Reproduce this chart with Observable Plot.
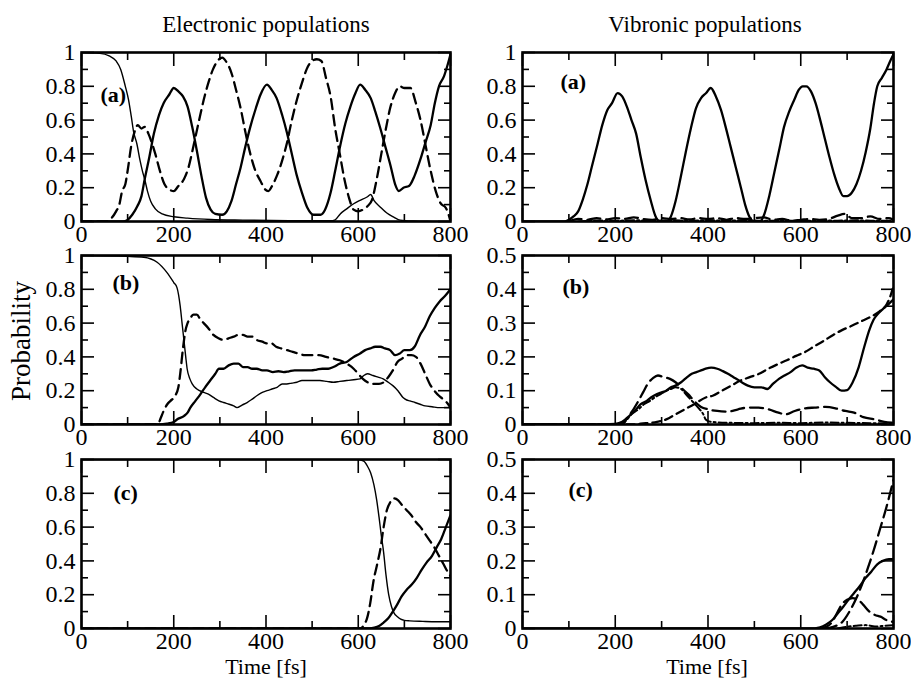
<!DOCTYPE html>
<html>
<head>
<meta charset="utf-8">
<script src="https://cdn.jsdelivr.net/npm/d3@7"></script>
<script src="https://cdn.jsdelivr.net/npm/@observablehq/plot@0.6"></script>
<style>
  html, body { margin: 0; padding: 0; background: #fff; }
  #root { position: relative; width: 911px; height: 679px; overflow: hidden; font-family: "Liberation Serif", serif; }
  #root > svg { position: absolute; }
</style>
</head>
<body>
<div id="root"></div>
<script>
// ---------------- data: [time (fs), probability] ----------------
const timeMajor = [0, 200, 400, 600, 800];
const timeMinor = [100, 300, 500, 700];
const probMajorE = [0, 0.2, 0.4, 0.6, 0.8, 1];
const probMinorE = [0.1, 0.3, 0.5, 0.7, 0.9];
const probMajorV = [0, 0.1, 0.2, 0.3, 0.4, 0.5];
const probMinorV = [0.05, 0.15, 0.25, 0.35, 0.45];
const columnTitles = ["Electronic populations", "Vibronic populations"];
const panelLabels = ["(a)", "(b)", "(c)"];
const yTitle = "Probability";
const xTitle = "Time [fs]";

// Electronic (a)
const elA_thin = [[0,1],[40,0.995],[60,0.98],[75,0.95],[85,0.9],[95,0.8],[102,0.72],[108,0.62],[113,0.53],[120,0.46],[127,0.36],[132,0.3],[137,0.25],[143,0.18],[150,0.12],[160,0.075],[175,0.045],[200,0.028],[230,0.02],[280,0.012],[350,0.008],[450,0.005],[540,0.004],[550,0.01],[561,0.045],[575,0.075],[590,0.105],[604,0.125],[619,0.145],[627,0.16],[634,0.125],[648,0.085],[662,0.05],[677,0.026],[691,0.008],[720,0.003],[760,0.001],[800,0]];
const elA_thick = [[0,0],[90,0],[100,0.01],[110,0.04],[121,0.09],[130,0.15],[137,0.25],[147,0.38],[157,0.52],[168,0.63],[178,0.7],[190,0.75],[200,0.79],[210,0.77],[220,0.74],[230,0.68],[240,0.56],[250,0.42],[260,0.27],[270,0.14],[280,0.07],[290,0.045],[305,0.04],[315,0.06],[325,0.12],[335,0.22],[345,0.32],[355,0.44],[366,0.56],[378,0.67],[388,0.75],[402,0.81],[412,0.78],[423,0.73],[435,0.63],[445,0.53],[456,0.4],[467,0.27],[478,0.17],[490,0.08],[503,0.04],[518,0.04],[528,0.07],[540,0.17],[550,0.3],[561,0.45],[572,0.58],[583,0.68],[594,0.76],[604,0.81],[615,0.78],[627,0.73],[637,0.65],[648,0.55],[659,0.44],[670,0.33],[680,0.22],[688,0.18],[698,0.2],[710,0.21],[722,0.27],[735,0.37],[746,0.47],[757,0.57],[766,0.7],[775,0.8],[786,0.86],[793,0.92],[800,0.99]];
const elA_dash = [[0,0],[55,0],[65,0.02],[75,0.06],[82,0.1],[88,0.18],[95,0.22],[100,0.3],[108,0.45],[115,0.53],[122,0.57],[130,0.55],[137,0.56],[145,0.52],[152,0.47],[160,0.4],[170,0.3],[180,0.22],[190,0.19],[200,0.18],[210,0.21],[222,0.25],[232,0.32],[243,0.45],[255,0.6],[265,0.72],[275,0.82],[285,0.9],[295,0.95],[305,0.97],[315,0.94],[325,0.88],[335,0.78],[345,0.67],[356,0.52],[366,0.4],[377,0.3],[388,0.24],[398,0.19],[405,0.18],[415,0.22],[425,0.28],[435,0.36],[445,0.46],[456,0.6],[467,0.72],[478,0.82],[488,0.9],[500,0.95],[510,0.96],[520,0.95],[530,0.85],[540,0.74],[550,0.55],[560,0.4],[570,0.25],[580,0.14],[590,0.07],[600,0.06],[610,0.07],[620,0.09],[630,0.13],[640,0.25],[650,0.4],[660,0.55],[670,0.68],[680,0.76],[690,0.8],[700,0.79],[713,0.79],[725,0.7],[735,0.6],[746,0.45],[757,0.3],[768,0.18],[778,0.11],[790,0.08],[796,0.04],[800,0]];

// Electronic (b)
const elB_thin = [[0,1],[100,0.995],[135,0.99],[164,0.96],[185,0.9],[200,0.84],[207,0.81],[214,0.7],[218,0.6],[222,0.5],[226,0.4],[229,0.33],[235,0.27],[240,0.24],[250,0.21],[265,0.19],[275,0.18],[286,0.16],[298,0.14],[308,0.13],[320,0.12],[330,0.11],[337,0.1],[348,0.115],[359,0.13],[370,0.15],[380,0.17],[392,0.19],[402,0.2],[413,0.21],[424,0.22],[435,0.24],[445,0.24],[456,0.245],[467,0.25],[478,0.26],[489,0.26],[503,0.26],[517,0.26],[532,0.255],[546,0.25],[560,0.255],[575,0.26],[590,0.265],[604,0.27],[612,0.29],[620,0.3],[632,0.29],[643,0.28],[654,0.27],[665,0.25],[675,0.23],[686,0.2],[697,0.16],[705,0.145],[712,0.14],[723,0.13],[734,0.12],[745,0.11],[760,0.105],[777,0.1],[800,0.1]];
const elB_thick = [[0,0],[170,0],[185,0.005],[200,0.015],[207,0.03],[222,0.05],[230,0.07],[236,0.1],[247,0.14],[258,0.18],[268,0.22],[279,0.26],[290,0.3],[298,0.33],[308,0.33],[319,0.35],[330,0.36],[340,0.36],[350,0.34],[360,0.34],[370,0.33],[380,0.33],[392,0.32],[402,0.32],[415,0.31],[427,0.315],[438,0.31],[450,0.315],[462,0.32],[474,0.32],[486,0.32],[498,0.32],[510,0.325],[522,0.33],[535,0.33],[546,0.34],[560,0.36],[575,0.37],[590,0.4],[604,0.42],[615,0.44],[626,0.45],[637,0.46],[648,0.46],[658,0.45],[669,0.44],[680,0.41],[690,0.42],[700,0.44],[712,0.44],[722,0.46],[734,0.53],[745,0.58],[755,0.64],[766,0.69],[777,0.73],[788,0.76],[800,0.8]];
const elB_dash = [[0,0],[165,0],[172,0.04],[178,0.08],[186,0.12],[193,0.14],[203,0.17],[210,0.22],[214,0.3],[220,0.45],[225,0.55],[230,0.6],[236,0.63],[243,0.65],[250,0.65],[258,0.62],[265,0.6],[275,0.57],[286,0.53],[297,0.51],[308,0.5],[319,0.51],[330,0.52],[340,0.53],[350,0.53],[360,0.52],[370,0.52],[380,0.5],[392,0.49],[402,0.48],[412,0.48],[422,0.46],[433,0.45],[445,0.44],[458,0.43],[470,0.42],[485,0.41],[500,0.41],[515,0.41],[530,0.4],[546,0.39],[560,0.38],[575,0.36],[590,0.33],[600,0.3],[610,0.27],[620,0.25],[630,0.24],[645,0.24],[655,0.25],[665,0.28],[675,0.32],[685,0.37],[695,0.39],[705,0.41],[715,0.41],[725,0.4],[735,0.36],[745,0.3],[755,0.24],[765,0.2],[775,0.17],[784,0.15],[792,0.13],[800,0.1]];

// Electronic (c)
const elC_thin = [[0,1],[600,1],[612,0.99],[620,0.96],[627,0.92],[634,0.85],[640,0.76],[645,0.66],[650,0.55],[655,0.45],[660,0.32],[666,0.2],[672,0.13],[678,0.09],[685,0.07],[692,0.055],[700,0.048],[712,0.045],[740,0.042],[770,0.04],[800,0.04]];
const elC_dash = [[0,0],[605,0],[612,0.02],[619,0.06],[626,0.15],[633,0.28],[641,0.38],[648,0.47],[655,0.6],[662,0.7],[670,0.75],[677,0.77],[686,0.76],[695,0.73],[705,0.7],[715,0.67],[725,0.63],[735,0.6],[745,0.56],[755,0.52],[765,0.48],[775,0.43],[785,0.38],[795,0.33],[800,0.31]];
const elC_thick = [[0,0],[625,0],[635,0.005],[645,0.015],[655,0.035],[665,0.06],[675,0.1],[684,0.14],[694,0.19],[705,0.23],[716,0.26],[727,0.3],[738,0.35],[748,0.39],[760,0.43],[770,0.48],[780,0.53],[790,0.6],[800,0.67]];

// Vibronic (a)
const vbA_solid = [[0,0],[90,0],[100,0.01],[110,0.03],[120,0.06],[130,0.13],[140,0.22],[150,0.33],[162,0.46],[172,0.57],[183,0.66],[193,0.7],[205,0.76],[215,0.74],[225,0.68],[235,0.6],[245,0.52],[255,0.38],[265,0.25],[277,0.12],[287,0.03],[297,0],[310,0],[320,0.03],[330,0.12],[341,0.26],[352,0.41],[363,0.55],[374,0.67],[385,0.73],[396,0.76],[406,0.79],[417,0.74],[428,0.66],[438,0.56],[449,0.44],[460,0.32],[471,0.2],[480,0.1],[489,0.03],[500,0],[512,0],[521,0.04],[532,0.15],[543,0.29],[554,0.43],[564,0.56],[575,0.65],[586,0.72],[596,0.78],[604,0.8],[612,0.8],[622,0.77],[632,0.7],[642,0.6],[652,0.49],[662,0.38],[672,0.28],[682,0.2],[692,0.15],[700,0.15],[710,0.17],[720,0.22],[730,0.3],[740,0.41],[750,0.55],[758,0.7],[765,0.8],[775,0.85],[785,0.9],[793,0.95],[800,0.99]];
const vbA_dash = [[100,0],[120,0.015],[140,0.01],[160,0.02],[180,0.012],[200,0.02],[220,0.015],[240,0.025],[260,0.015],[280,0.01],[300,0.02],[320,0.015],[340,0.02],[360,0.012],[380,0.02],[400,0.015],[420,0.02],[440,0.01],[460,0.02],[480,0.015],[500,0.02],[520,0.025],[540,0.01],[560,0.015],[580,0.005],[600,0.01],[620,0.015],[640,0.01],[660,0.015],[680,0.035],[695,0.045],[710,0.02],[730,0.02],[750,0.03],[770,0.015],[790,0.02],[800,0.01]];
const vbA_dashdot = [[120,0],[160,0.006],[200,0.004],[240,0.008],[280,0.004],[320,0.007],[360,0.004],[400,0.008],[440,0.005],[480,0.008],[520,0.004],[560,0.006],[600,0.004],[640,0.006],[680,0.005],[720,0.007],[760,0.004],[800,0.005]];

// Vibronic (b)
const vbB_solid = [[0,0],[150,0],[200,0.002],[215,0.008],[230,0.025],[245,0.045],[255,0.06],[268,0.07],[277,0.08],[290,0.09],[300,0.095],[310,0.1],[320,0.11],[330,0.115],[342,0.125],[355,0.14],[365,0.15],[375,0.155],[385,0.16],[395,0.165],[407,0.168],[420,0.165],[432,0.158],[443,0.15],[455,0.14],[465,0.132],[476,0.122],[486,0.115],[500,0.11],[515,0.11],[528,0.105],[540,0.12],[553,0.135],[565,0.145],[578,0.155],[590,0.168],[603,0.175],[615,0.168],[628,0.165],[640,0.16],[652,0.14],[663,0.125],[675,0.112],[688,0.1],[700,0.102],[712,0.125],[725,0.17],[737,0.23],[748,0.28],[757,0.31],[768,0.33],[780,0.345],[790,0.357],[800,0.37]];
const vbB_short = [[0,0],[230,0],[260,0.003],[290,0.008],[310,0.015],[330,0.03],[350,0.045],[370,0.06],[395,0.08],[410,0.085],[430,0.1],[450,0.115],[470,0.13],[490,0.14],[510,0.15],[530,0.165],[550,0.178],[570,0.19],[590,0.203],[610,0.215],[630,0.232],[650,0.248],[670,0.265],[690,0.28],[710,0.292],[730,0.305],[750,0.318],[770,0.335],[785,0.355],[792,0.375],[800,0.41]];
const vbB_long = [[0,0],[215,0],[226,0.02],[237,0.04],[248,0.065],[260,0.095],[270,0.12],[282,0.138],[292,0.145],[305,0.14],[318,0.135],[330,0.125],[345,0.105],[357,0.09],[370,0.07],[385,0.052],[400,0.045],[420,0.04],[443,0.038],[465,0.045],[486,0.05],[509,0.05],[530,0.045],[552,0.035],[567,0.03],[587,0.04],[610,0.048],[630,0.05],[653,0.052],[675,0.048],[696,0.04],[715,0.035],[735,0.022],[760,0.015],[780,0.008],[800,0.005]];
const vbB_dashdot = [[0,0],[210,0],[222,0.01],[235,0.03],[250,0.045],[262,0.06],[275,0.07],[285,0.08],[298,0.09],[310,0.1],[320,0.105],[330,0.11],[342,0.105],[352,0.09],[362,0.075],[372,0.06],[382,0.045],[390,0.03],[395,0.015],[405,0.008],[450,0.005],[500,0.004],[550,0.005],[600,0.004],[650,0.006],[700,0.005],[750,0.004],[800,0.003]];

// Vibronic (c)
const vbC_solid = [[0,0],[630,0],[640,0.003],[655,0.012],[668,0.025],[680,0.045],[692,0.065],[703,0.085],[715,0.105],[727,0.125],[740,0.15],[752,0.168],[765,0.19],[777,0.2],[790,0.205],[800,0.205]];
const vbC_short = [[650,0],[670,0.005],[690,0.02],[705,0.05],[720,0.09],[732,0.13],[745,0.18],[757,0.23],[770,0.29],[785,0.36],[800,0.44]];
const vbC_long = [[640,0],[655,0.005],[668,0.02],[678,0.045],[688,0.07],[700,0.085],[712,0.09],[724,0.085],[735,0.07],[748,0.05],[760,0.04],[772,0.035],[785,0.025],[795,0.02],[800,0.02]];
const vbC_dashdot = [[680,0],[700,0.005],[720,0.008],[740,0.01],[760,0.006],[780,0.008],[800,0.01]];

// ---------------- styles ----------------
const ST = {
  thick:   {strokeWidth: 2.3, strokeDasharray: null},
  thin:    {strokeWidth: 1.4, strokeDasharray: null},
  dash:    {strokeWidth: 2.3, strokeDasharray: "10,6"},
  short:   {strokeWidth: 2.3, strokeDasharray: "8,5"},
  long:    {strokeWidth: 2.3, strokeDasharray: "13,6"},
  dashdot: {strokeWidth: 2.0, strokeDasharray: "8,3,2,3"}
};

const SERIF = "'Liberation Serif', serif";
const fmt = d => String(+d.toFixed(2));
const FS = 24;

function panel({series, yMax, yMajor, yMinor, label, labelDx, labelDy, widthR}) {
  const marks = [];
  for (const [data, style] of series) {
    marks.push(Plot.line(data, {x: d => d[0], y: d => d[1], stroke: "#000", curve: "monotone-x", clip: true, strokeLinejoin: "round", ...ST[style]}));
  }
  const tk = {fill: "none", strokeWidth: 1.6, stroke: "#000", label: null};
  for (const anchor of ["bottom", "top"]) {
    marks.push(Plot.axisX(timeMajor, {...tk, anchor, tickSize: -13}));
    marks.push(Plot.axisX(timeMinor, {...tk, anchor, tickSize: -7}));
  }
  for (const anchor of ["left", "right"]) {
    marks.push(Plot.axisY(yMajor, {...tk, anchor, tickSize: -13}));
    marks.push(Plot.axisY(yMinor, {...tk, anchor, tickSize: -7}));
  }
  marks.push(Plot.axisX(timeMajor, {anchor: "bottom", tickSize: 0, tickPadding: 3, tickFormat: fmt, fill: "#000", label: null, fontSize: FS, fontFamily: SERIF}));
  marks.push(Plot.axisY(yMajor, {anchor: "left", tickSize: 0, tickPadding: 6, tickFormat: fmt, fill: "#000", label: null, fontSize: FS, fontFamily: SERIF}));
  marks.push(Plot.frame({stroke: "#000", strokeWidth: 2.6}));
  marks.push(Plot.text([label], {text: d => d, frameAnchor: "top-left", dx: labelDx, dy: labelDy, textAnchor: "start", lineAnchor: "middle", fontWeight: "bold", fontSize: 22, fontFamily: SERIF, fill: "#000"}));
  return Plot.plot({
    width: 50 + widthR + 20,
    height: 15 + 169 + 30,
    marginLeft: 50, marginRight: 20, marginTop: 15, marginBottom: 30,
    x: {domain: [0, 800]},
    y: {domain: [0, yMax]},
    style: {fontFamily: SERIF, fontSize: FS + "px", background: "transparent", overflow: "visible", maxWidth: "none", color: "#000"},
    marks
  });
}

const root = document.getElementById("root");
function place(svg, left, top) {
  svg.style.position = "absolute";
  svg.style.left = left + "px";
  svg.style.top = top + "px";
  root.appendChild(svg);
}

const leftX = 81 - 50, rightX = 522 - 50;
const rowTop = [52 - 15, 255 - 15, 459 - 15];

place(panel({series: [[elA_thin, "thin"], [elA_thick, "thick"], [elA_dash, "dash"]], yMax: 1, yMajor: probMajorE, yMinor: probMinorE, label: panelLabels[0], labelDx: 19, labelDy: 42, widthR: 369}), leftX, rowTop[0]);
place(panel({series: [[elB_thin, "thin"], [elB_thick, "thick"], [elB_dash, "dash"]], yMax: 1, yMajor: probMajorE, yMinor: probMinorE, label: panelLabels[1], labelDx: 31, labelDy: 27, widthR: 369}), leftX, rowTop[1]);
place(panel({series: [[elC_thin, "thin"], [elC_thick, "thick"], [elC_dash, "dash"]], yMax: 1, yMajor: probMajorE, yMinor: probMinorE, label: panelLabels[2], labelDx: 32, labelDy: 33, widthR: 369}), leftX, rowTop[2]);

place(panel({series: [[vbA_dashdot, "dashdot"], [vbA_dash, "long"], [vbA_solid, "thick"]], yMax: 1, yMajor: probMajorE, yMinor: probMinorE, label: panelLabels[0], labelDx: 38, labelDy: 29, widthR: 371}), rightX, rowTop[0]);
place(panel({series: [[vbB_dashdot, "dashdot"], [vbB_long, "long"], [vbB_short, "short"], [vbB_solid, "thick"]], yMax: 0.5, yMajor: probMajorV, yMinor: probMinorV, label: panelLabels[1], labelDx: 40, labelDy: 31, widthR: 371}), rightX, rowTop[1]);
place(panel({series: [[vbC_dashdot, "dashdot"], [vbC_long, "long"], [vbC_short, "long"], [vbC_solid, "thick"]], yMax: 0.5, yMajor: probMajorV, yMinor: probMinorV, label: panelLabels[2], labelDx: 46, labelDy: 30, widthR: 371}), rightX, rowTop[2]);

// ---------------- titles ----------------
const ov = d3.create("svg").attr("width", 911).attr("height", 679)
  .style("left", "0px").style("top", "0px").style("position", "absolute")
  .attr("font-family", SERIF).style("font-family", SERIF);
ov.append("text").attr("x", 266).attr("y", 32).attr("text-anchor", "middle").attr("font-size", 23).text(columnTitles[0]);
ov.append("text").attr("x", 705).attr("y", 32).attr("text-anchor", "middle").attr("font-size", 23).text(columnTitles[1]);
ov.append("text").attr("transform", "translate(30,341) rotate(-90)").attr("text-anchor", "middle").attr("font-size", 27).text(yTitle);
ov.append("text").attr("x", 266).attr("y", 673.5).attr("text-anchor", "middle").attr("font-size", 22).text(xTitle);
ov.append("text").attr("x", 707).attr("y", 673.5).attr("text-anchor", "middle").attr("font-size", 22).text(xTitle);
root.appendChild(ov.node());
</script>
</body>
</html>
